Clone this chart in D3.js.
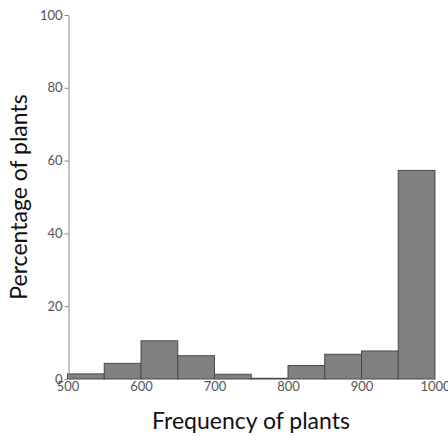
<!DOCTYPE html>
<html><head><meta charset="utf-8">
<script src="https://cdn.jsdelivr.net/npm/d3@7"></script>
<style>body{margin:0;background:#fff}</style>
</head><body>
<svg id="c" width="448" height="440"></svg>
<script>
const binStarts = [500,550,600,650,700,750,800,850,900,950];
const binWidth = 50;
const percentages = [1.4,4.3,10.5,6.4,1.3,0.2,3.7,6.8,7.7,57.3];
const xTicks = [500,600,700,800,900,1000];
const yTicks = [0,20,40,60,80,100];
const xTitle = "Frequency of plants";
const yTitle = "Percentage of plants";

const svg = d3.select("#c");
const x = d3.scaleLinear().domain([500,1000]).range([67.5,435]);
const y = d3.scaleLinear().domain([0,100]).range([379,15]);

svg.selectAll("rect.bar").data(binStarts).join("rect")
  .attr("class","bar")
  .attr("x", d=>x(d))
  .attr("width", d=>x(d+binWidth)-x(d))
  .attr("y", (d,i)=>y(percentages[i]))
  .attr("height", (d,i)=>y(0)-y(percentages[i]))
  .attr("fill","#808080").attr("stroke","#4a4a4a").attr("stroke-width",1);

const ya = svg.append("g").attr("transform","translate(68.5,0)")
  .call(d3.axisLeft(y).tickValues(yTicks).tickFormat(d3.format("d")).tickSize(4).tickPadding(2).tickSizeOuter(0));
ya.select(".domain").attr("stroke","#888");
ya.selectAll(".tick line").attr("stroke","#888");
ya.selectAll("text").attr("font-family","Lato").attr("font-size",13).attr("fill","#555");

const xa = svg.append("g").attr("transform","translate(0,379)")
  .call(d3.axisBottom(x).tickValues(xTicks).tickFormat(d3.format("d")).tickSize(0).tickPadding(3));
xa.select(".domain").remove();
xa.selectAll("text").attr("font-family","Lato").attr("font-size",13).attr("fill","#555").attr("dy","0.71em");

svg.append("text").attr("x",251).attr("y",429).attr("text-anchor","middle")
  .attr("font-family","Lato").attr("font-size",23).attr("fill","#111").text(xTitle);
svg.append("text").attr("transform","translate(27,197) rotate(-90)").attr("text-anchor","middle")
  .attr("font-family","Lato").attr("font-size",23).attr("fill","#111").text(yTitle);
</script>
</body></html>
